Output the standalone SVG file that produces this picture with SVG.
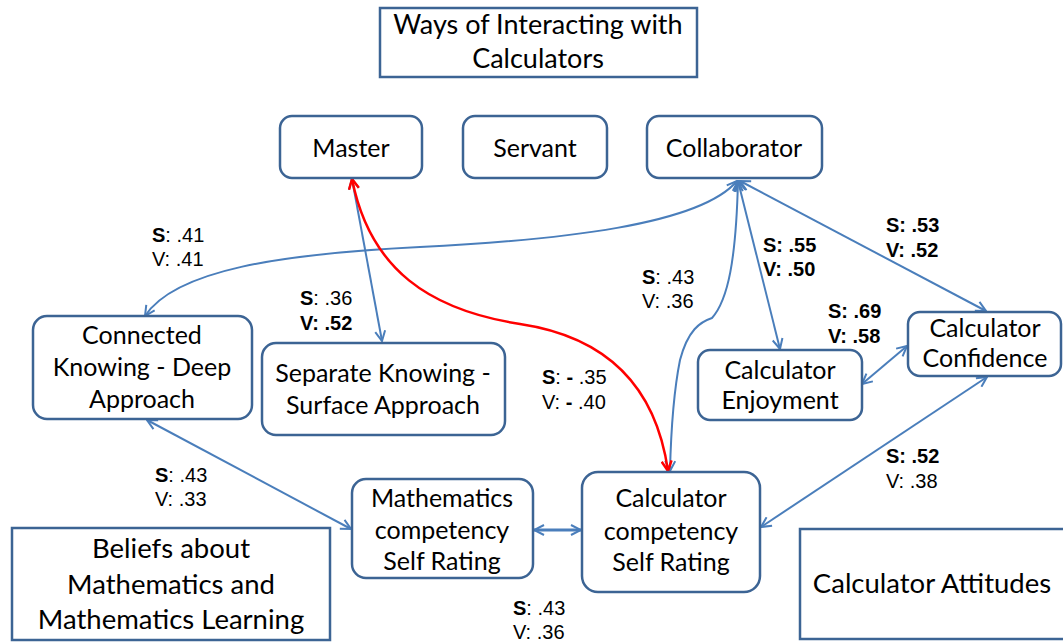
<svg xmlns="http://www.w3.org/2000/svg" width="1063" height="644" viewBox="0 0 1063 644">
<style>
.box{fill:#fff;stroke:#3c6494;stroke-width:2.5}
.nt{font-family:Lato,"Open Sans",sans-serif;font-size:25px;fill:#000;text-anchor:middle}
.lb{font-family:"Liberation Sans",Arial,sans-serif;font-size:20px;fill:#000}
.b{font-weight:bold}
.cn{fill:none;stroke:#4a7ebb;stroke-width:2;marker-start:url(#ab);marker-end:url(#ab)}
.red{fill:none;stroke:#ff0000;stroke-width:2.5;marker-start:url(#ar);marker-end:url(#ar)}
</style>
<defs>
<marker id="ab" viewBox="0 0 12 12" refX="11" refY="6" markerWidth="12" markerHeight="12" markerUnits="userSpaceOnUse" orient="auto-start-reverse"><path d="M1,1 L11,6 L1,11" fill="none" stroke="#4a7ebb" stroke-width="2"/></marker>
<marker id="ar" viewBox="0 0 12 12" refX="11" refY="6" markerWidth="12" markerHeight="12" markerUnits="userSpaceOnUse" orient="auto-start-reverse"><path d="M1,1 L11,6 L1,11" fill="none" stroke="#ff0000" stroke-width="2.5"/></marker>
</defs>
<rect width="1063" height="644" fill="#fff"/>
<g id="connectors">
<path class="cn" d="M737,181 C 700,225 560,240 420,247 C 280,254 175,270 145,316"/>
<path class="cn" d="M738,181 L780,349"/>
<path class="cn" d="M740,181 L986,311"/>
<path class="cn" d="M738,181 C 736,260 728,300 712,318 C 700,322 688,330 680,360 C 674,390 671,430 670,471"/>
<path class="cn" d="M352,179 L382,341"/>
<path class="red" d="M352,179 C 370,270 430,310 520,324 C 600,336 655,380 668,471"/>
<path class="cn" d="M147,420 L351,529"/>
<path class="cn" d="M534,530 L581,530" style="stroke-width:3"/>
<path class="cn" d="M862,384 L907,346"/>
<path class="cn" d="M987,377 L761,527"/>
</g>
<g id="title"><rect class="box" x="380" y="8" width="317" height="69"/><text class="nt" x="538" y="34" style="font-size:27px">Ways of Interacting with</text><text class="nt" x="538" y="68" style="font-size:27px">Calculators</text></g>
<g id="master"><rect class="box" x="280" y="116" width="142" height="62" rx="12"/><text class="nt" x="351" y="157">Master</text></g>
<g id="servant"><rect class="box" x="463" y="116" width="144" height="62" rx="12"/><text class="nt" x="535" y="157">Servant</text></g>
<g id="collaborator"><rect class="box" x="647" y="116" width="175" height="62" rx="12"/><text class="nt" x="734" y="157">Collaborator</text></g>
<g id="connected"><rect class="box" x="33" y="316" width="219" height="103" rx="14"/><text class="nt" x="142" y="344">Connected</text><text class="nt" x="142" y="376">Knowing - Deep</text><text class="nt" x="142" y="408">Approach</text></g>
<g id="separate"><rect class="box" x="262" y="343" width="243" height="92" rx="14"/><text class="nt" x="383" y="382">Separate Knowing -</text><text class="nt" x="383" y="414">Surface Approach</text></g>
<g id="enjoyment"><rect class="box" x="698" y="350" width="164" height="70" rx="12"/><text class="nt" x="780" y="379">Calculator</text><text class="nt" x="780" y="409">Enjoyment</text></g>
<g id="confidence"><rect class="box" x="908" y="312" width="153" height="64" rx="12"/><text class="nt" x="985" y="337">Calculator</text><text class="nt" x="985" y="367">Confidence</text></g>
<g id="mathcomp"><rect class="box" x="352" y="479" width="181" height="99" rx="14"/><text class="nt" x="442" y="507">Mathematics</text><text class="nt" x="442" y="539">competency</text><text class="nt" x="442" y="570">Self Rating</text></g>
<g id="calccomp"><rect class="box" x="582" y="472" width="178" height="120" rx="16"/><text class="nt" x="671" y="507">Calculator</text><text class="nt" x="671" y="540">competency</text><text class="nt" x="671" y="571">Self Rating</text></g>
<g id="beliefs"><rect class="box" x="12" y="528" width="318" height="112"/><text class="nt" x="171" y="558" style="font-size:27.5px">Beliefs about</text><text class="nt" x="171" y="594" style="font-size:27.5px">Mathematics and</text><text class="nt" x="171" y="629" style="font-size:27.5px">Mathematics Learning</text></g>
<g id="attitudes"><rect class="box" x="800" y="529" width="270" height="110"/><text class="nt" x="932" y="593" style="font-size:27.5px">Calculator Attitudes</text></g>
<g id="labels">
<text class="lb" x="152" y="242"><tspan class="b">S</tspan>: .41</text><text class="lb" x="152" y="266">V: .41</text>
<text class="lb" x="300" y="305"><tspan class="b">S</tspan>: .36</text><text class="lb b" x="300" y="330">V: .52</text>
<text class="lb" x="642" y="284"><tspan class="b">S</tspan>: .43</text><text class="lb" x="642" y="308">V: .36</text>
<text class="lb b" x="763" y="252">S: .55</text><text class="lb b" x="763" y="276">V: .50</text>
<text class="lb b" x="886" y="232">S: .53</text><text class="lb b" x="886" y="257">V: .52</text>
<text class="lb b" x="828" y="318">S: .69</text><text class="lb b" x="828" y="343">V: .58</text>
<text class="lb" x="542" y="384"><tspan class="b">S</tspan>: <tspan class="b">-</tspan> .35</text><text class="lb" x="542" y="409">V: <tspan class="b">-</tspan> .40</text>
<text class="lb" x="155" y="482"><tspan class="b">S</tspan>: .43</text><text class="lb" x="155" y="506">V: .33</text>
<text class="lb b" x="886" y="463">S: .52</text><text class="lb" x="886" y="488">V: .38</text>
<text class="lb" x="513" y="615"><tspan class="b">S</tspan>: .43</text><text class="lb" x="513" y="639">V: .36</text>
</g>
</svg>
